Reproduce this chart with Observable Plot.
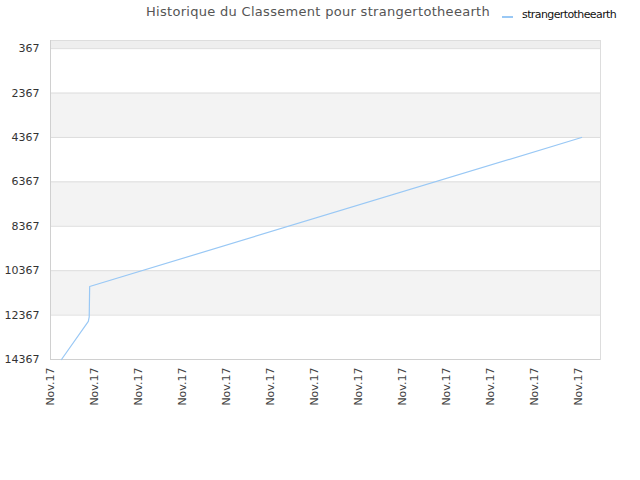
<!DOCTYPE html>
<html>
<head>
<meta charset="utf-8">
<script src="https://cdn.jsdelivr.net/npm/d3@7"></script>
<script src="https://cdn.jsdelivr.net/npm/@observablehq/plot@0.6"></script>
<style>
  html, body { margin: 0; padding: 0; background: #fff; }
  body { width: 640px; height: 480px; overflow: hidden; font-family: "DejaVu Sans", sans-serif; }
  #header { position: relative; height: 30px; }
  #title { position: absolute; left: 0; width: 636px; top: 4px; text-align: center; font-size: 13px; color: #555; letter-spacing: 0.3px; }
  #legend { position: absolute; left: 502px; top: 8px; font-size: 11px; color: #111; display: flex; align-items: center; }
  #legend .sw { width: 11px; height: 2px; background: #99c8f5; margin-right: 9px; margin-top: 4px; }
  #legend span { letter-spacing: -0.6px; }
</style>
</head>
<body>
<div id="header">
  <div id="title">Historique du Classement pour strangertotheearth</div>
  <div id="legend"><div class="sw"></div><span>strangertotheearth</span></div>
</div>
<div id="chart"></div>
<script>
// Series: position along x (in tick-interval units) and rank
const seriesName = "strangertotheearth";
const xPos = [0.25, 0.86, 0.88, 0.89, 12.07];
const ranks = [14367, 12650, 12450, 11080, 4367];

// Axis ticks
const yTicks = [367, 2367, 4367, 6367, 8367, 10367, 12367, 14367];
const xTicks = [0, 1, 2, 3, 4, 5, 6, 7, 8, 9, 10, 11, 12];
const xTickLabels = ["Nov.17", "Nov.17", "Nov.17", "Nov.17", "Nov.17", "Nov.17", "Nov.17", "Nov.17", "Nov.17", "Nov.17", "Nov.17", "Nov.17", "Nov.17"];

// Alternating background bands
const bandStart = [0, 2367, 6367, 10367];
const bandEnd = [367, 4367, 8367, 12367];

const data = xPos.map((x, i) => ({x, rank: ranks[i]}));
const bands = bandStart.map((s, i) => ({y1: s, y2: bandEnd[i], top: i === 0}));

const chart = Plot.plot({
  width: 640,
  height: 450,
  marginTop: 10,
  marginLeft: 50,
  marginRight: 40,
  marginBottom: 121,
  style: {fontFamily: "DejaVu Sans, sans-serif", fontSize: "11px", color: "#444", background: "#fff"},
  x: {domain: [0, 12.5], ticks: xTicks, tickFormat: (d, i) => xTickLabels[i], tickRotate: -90, tickSize: 0, tickPadding: 8, label: null},
  y: {domain: [14367, 0], ticks: yTicks, tickFormat: d => String(d), tickSize: 0, tickPadding: 11, label: null},
  marks: [
    Plot.rect(bands, {x1: 0, x2: 12.5, y1: "y1", y2: "y2", fill: d => d.top ? "#eeeeee" : "#f3f3f3"}),
    Plot.ruleY(yTicks, {stroke: "#dddddd", strokeWidth: 1}),
    Plot.frame({stroke: "#dddddd"}),
    Plot.ruleY([14367], {stroke: "#d0d0d0"}),
    Plot.ruleX([0], {stroke: "#d0d0d0"}),
    Plot.line(data, {x: "x", y: "rank", stroke: "#99c8f5", strokeWidth: 1.2}),
    Plot.axisY({ticks: yTicks, tickFormat: d => String(d), tickSize: 0, tickPadding: 11, fill: "#333", label: null}),
    Plot.axisX({ticks: xTicks, tickFormat: (d, i) => xTickLabels[i], tickRotate: -90, tickSize: 0, tickPadding: 8, fill: "#444", label: null})
  ]
});
document.getElementById("chart").appendChild(chart);
</script>
</body>
</html>
